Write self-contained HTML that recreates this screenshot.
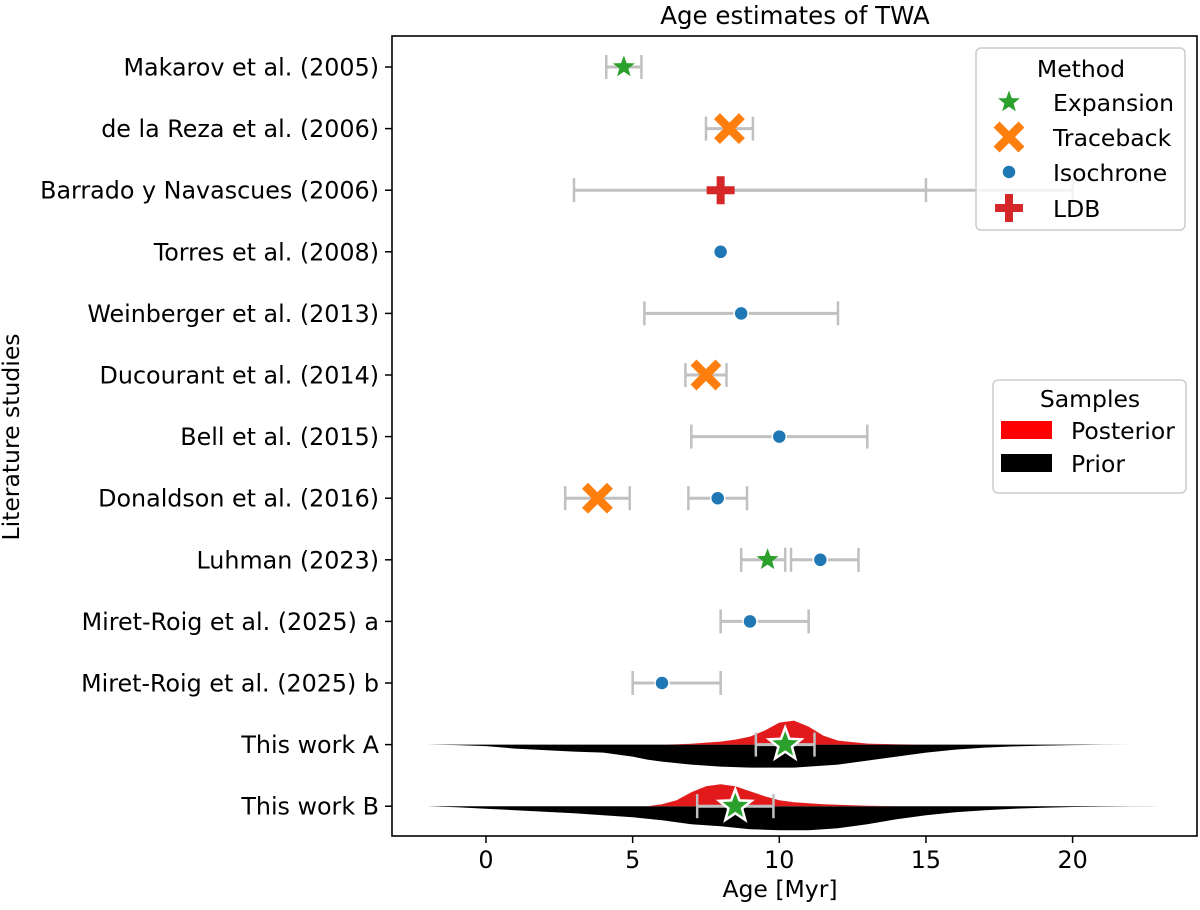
<!DOCTYPE html>
<html><head><meta charset="utf-8">
<style>
html,body{margin:0;padding:0;background:#fff;}
svg{display:block;font-family:"DejaVu Sans","Liberation Sans",sans-serif;}
</style></head>
<body>
<svg id="chart" width="1200" height="910" viewBox="0 0 1200 910" xmlns="http://www.w3.org/2000/svg">
<text x="795" y="24" font-size="24.5" text-anchor="middle">Age estimates of TWA</text>
<text transform="translate(19,437) rotate(-90)" font-size="23.5" text-anchor="middle">Literature studies</text>
<text x="780" y="897" font-size="23.5" text-anchor="middle">Age [Myr]</text>
<g id="plot"></g>
<g id="legend-method">
<rect x="976" y="48" width="209" height="182" rx="5" fill="#fff" fill-opacity="0.8" stroke="#ccc" stroke-width="1.5"/>
<text x="1081" y="77" font-size="23.5" text-anchor="middle">Method</text>
<text x="1053" y="111" font-size="23.5">Expansion</text>
<text x="1053" y="146" font-size="23.5">Traceback</text>
<text x="1053" y="181" font-size="23.5">Isochrone</text>
<text x="1053" y="217" font-size="23.5">LDB</text>
</g>
<g id="legend-samples">
<rect x="993" y="380" width="193" height="113" rx="5" fill="#fff" fill-opacity="0.8" stroke="#ccc" stroke-width="1.5"/>
<text x="1090" y="407" font-size="23.5" text-anchor="middle">Samples</text>
<rect x="1001" y="421" width="51" height="18" fill="#ff0000"/>
<text x="1071" y="439" font-size="23.5">Posterior</text>
<rect x="1001" y="454" width="51" height="18" fill="#000"/>
<text x="1071" y="472" font-size="23.5">Prior</text>
</g>
</svg>
<script>
const studies = ["Makarov et al. (2005)","de la Reza et al. (2006)","Barrado y Navascues (2006)","Torres et al. (2008)","Weinberger et al. (2013)","Ducourant et al. (2014)","Bell et al. (2015)","Donaldson et al. (2016)","Luhman (2023)","Miret-Roig et al. (2025) a","Miret-Roig et al. (2025) b","This work A","This work B"];
const estRows    = [0,1,2,3,4,5,6,7,7,8,8,9,10];
const estMethods = ["Expansion","Traceback","LDB","Isochrone","Isochrone","Traceback","Isochrone","Traceback","Isochrone","Expansion","Isochrone","Isochrone","Isochrone"];
const estValues  = [4.7,8.3,8.0,8.0,8.7,7.5,10.0,3.8,7.9,9.6,11.4,9.0,6.0];
const estLow     = [4.1,7.5,3.0,null,5.4,6.8,7.0,2.7,6.9,8.7,10.4,8.0,5.0];
const estHigh    = [5.3,9.1,15.0,null,12.0,8.2,13.0,4.9,8.9,10.2,12.7,11.0,8.0];
const extraCapRow = [2]; const extraCapVal = [20.0];
const xTicks = [0,5,10,15,20];
const densAges = [-2,-1,0,1,2,3,4,5,5.5,6,6.5,7,7.5,8,8.5,9,9.5,10,10.5,11,11.5,12,13,14,15,16,17,18,19,20,21,22,23];
const postA  = [0,0,0,0,0,0,0,0,0,0,0.3,0.8,2,3,5,8,14,22,24,18,9,4,1,0.3,0,0,0,0,0,0,0,0,0];
const priorA = [0,0.5,1.5,4,5.5,7,8,12,15,17,18.5,20,21,22,22.5,23,23,23,23,22,21,20,16,12,8,5,3,1.8,1,0.5,0.2,0,0];
const postB  = [0,0,0,0,0,0,0,0,0,2,6,14,20,22,20,15,10,6,4,3,2,1.5,0.5,0,0,0,0,0,0,0,0,0,0];
const priorB = [0,1,2.5,4,5.5,7,9,11,12.5,14,16,18,19,20,21.5,23,23.5,24,24,24,23,22,18,13,9,6,4,2.5,1.5,0.8,0.4,0.2,0];
const fitRows = [11,12]; const fitVal=[10.2,8.5]; const fitLow=[9.2,7.2]; const fitHigh=[11.2,9.8];

const X0=392,X1=1197,Y0=36,Y1=836;
function xs(v){return 486+(v-0)*29.33;}
function ys(i){return 67+i*61.6;}
const NS="http://www.w3.org/2000/svg";
const plot=document.getElementById('plot');
function mk(tag,attrs,parent){const e=document.createElementNS(NS,tag);for(const k in attrs)e.setAttribute(k,attrs[k]);(parent||plot).appendChild(e);return e;}
function starPts(cx,cy,R){let r=R*0.42,p=[];for(let k=0;k<10;k++){const a=-Math.PI/2+k*Math.PI/5;const rr=k%2?r:R;p.push((cx+rr*Math.cos(a)).toFixed(1)+','+(cy+rr*Math.sin(a)).toFixed(1));}return p.join(' ');}
function marker(m,cx,cy,big){
  let e;
  if(m==="Expansion"){e=mk('polygon',{points:starPts(cx,cy,big?17:11.5),fill:'#2ca02c',stroke:big?'#fff':'none','stroke-width':big?2.5:0});}
  else if(m==="Traceback"){const d=9.5,w=6;e=mk('path',{d:`M${cx-d},${cy-d}L${cx+d},${cy+d}M${cx-d},${cy+d}L${cx+d},${cy-d}`,stroke:'#ff7f0e','stroke-width':w*1.4,'stroke-linecap':'square',fill:'none'});}
  else if(m==="Isochrone"){e=mk('circle',{cx:cx,cy:cy,r:7,fill:'#1f77b4',stroke:'#fff','stroke-width':1.5});}
  else {e=mk('path',{d:`M${cx-14},${cy}H${cx+14}M${cx},${cy-14}V${cy+14}`,stroke:'#d62728','stroke-width':8,fill:'none'});}
  return e;
}
function errbar(lo,hi,y,name){
  const g=mk('g',{});
  
  
  mk('line',{x1:xs(lo),x2:xs(hi),y1:y,y2:y,stroke:'#c0c0c0','stroke-width':3},g);
  mk('line',{x1:xs(lo),x2:xs(lo),y1:y-12,y2:y+12,stroke:'#c0c0c0','stroke-width':2.5},g);
  mk('line',{x1:xs(hi),x2:xs(hi),y1:y-12,y2:y+12,stroke:'#c0c0c0','stroke-width':2.5},g);
  return g;
}
function violin(dens,row,sign,color,name){
  const y=ys(row);let d=`M${xs(densAges[0])},${y}`;
  densAges.forEach((a,i)=>{d+=`L${xs(a).toFixed(1)},${(y+sign*dens[i]).toFixed(1)}`;});
  d+=`L${xs(densAges[densAges.length-1])},${y}Z`;
  const p=mk('path',{d:d,fill:color,stroke:'none'});
  
  
}
violin(priorA,11,1,'#000','violin-prior-a');
violin(postA,11,-1,'#e31a1c','violin-posterior-a');
violin(priorB,12,1,'#000','violin-prior-b');
violin(postB,12,-1,'#e31a1c','violin-posterior-b');
estRows.forEach((r,i)=>{ if(estLow[i]!==null) errbar(estLow[i],estHigh[i],ys(r),'error-bar-'+i); });
extraCapRow.forEach((r,i)=>{const y=ys(r);const v=estValues[estRows.indexOf(r)];
  const g=mk('g',{});
  
  
  mk('line',{x1:xs(v),x2:xs(extraCapVal[i]),y1:y,y2:y,stroke:'#c0c0c0','stroke-width':3},g);
  mk('line',{x1:xs(extraCapVal[i]),x2:xs(extraCapVal[i]),y1:y-12,y2:y+12,stroke:'#c0c0c0','stroke-width':2.5},g);});
fitRows.forEach((r,i)=>errbar(fitLow[i],fitHigh[i],ys(r),'fit-error-bar-'+i));
estRows.forEach((r,i)=>{const e=marker(estMethods[i],xs(estValues[i]),ys(r),false);
  
  });
fitRows.forEach((r,i)=>{const e=marker("Expansion",xs(fitVal[i]),ys(r),true);
  
  });
const fr=mk('rect',{x:X0,y:Y0,width:X1-X0,height:Y1-Y0,fill:'none',stroke:'#000','stroke-width':1.6});


studies.forEach((s,i)=>{const y=ys(i);
  mk('line',{x1:X0-7,x2:X0,y1:y,y2:y,stroke:'#000','stroke-width':1.5});
  const t=mk('text',{x:X0-13,y:y+8.5,'font-size':23.8,'text-anchor':'end'});t.textContent=s;
  
  });
xTicks.forEach(v=>{const x=xs(v);
  mk('line',{x1:x,x2:x,y1:Y1,y2:Y1+7,stroke:'#000','stroke-width':1.5});
  const t=mk('text',{x:x,y:Y1+32,'font-size':23.8,'text-anchor':'middle'});t.textContent=v;
  
  });
const lm=document.getElementById('legend-method');
[["Expansion",102],["Traceback",137],["Isochrone",172],["LDB",208]].forEach(([m,y])=>{const e=marker(m,1009,y,false);lm.appendChild(e);
  
  });
</script>
</body></html>
